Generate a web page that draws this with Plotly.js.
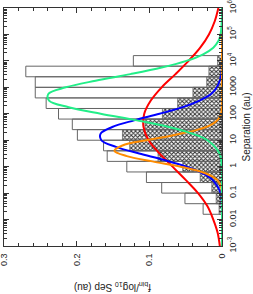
<!DOCTYPE html>
<html>
<head>
<meta charset="utf-8">
<script src="https://cdn.plot.ly/plotly-3.0.1.min.js"></script>
<style>
html,body{margin:0;padding:0;background:#fff;overflow:hidden;}
#plot{width:253px;height:294px;}
</style>
</head>
<body>
<div id="plot"></div>
<script>
// Bin centres in log10(separation / au), bin width 0.4 dex
var binCentersLog = [-1.6,-1.2,-0.8,-0.4,0.0,0.4,0.8,1.2,1.6,2.0,2.4,2.8,3.2,3.6,4.0];
var openHistVals  = [0.026,0.051,0.083,0.104,0.131,0.158,0.163,0.199,0.206,0.225,0.242,0.257,0.257,0.270,0.122];
var hatchHistVals = [0.004,0.008,0.014,0.030,0.054,0.088,0.127,0.137,0.106,0.082,0.061,0.040,0.021,0.018,0.006];

// Curves: log10 separation (au) and f_bin per log10 separation
var redLogSep = [-3,-2.5,-2,-1.5,-1,-0.5,0,0.5,1,1.5,2,2.5,3,3.5,4,4.5,5,5.5,6];
var redF      = [0.003,0.006,0.012,0.020,0.033,0.050,0.068,0.086,0.101,0.108,0.107,0.098,0.083,0.064,0.046,0.030,0.018,0.010,0.005];

var blueLogSep = [-3,-2,-1.5,-1,-0.5,-0.25,0,0.25,0.5,0.75,1,1.25,1.5,1.75,2,2.25,2.5,2.75,3,3.5,4,5,6];
var blueF      = [0,0,0.0002,0.002,0.013,0.027,0.049,0.079,0.114,0.146,0.166,0.167,0.151,0.121,0.086,0.054,0.031,0.015,0.007,0.001,0,0,0];

var orangeLogSep = [-3,-2,-1.5,-1,-0.75,-0.5,-0.25,0,0.2,0.4,0.6,0.8,1,1.2,1.4,1.6,1.8,2,2.5,3,4,5,6];
var orangeF      = [0,0,0,0.0002,0.0014,0.0067,0.023,0.057,0.096,0.131,0.148,0.137,0.104,0.065,0.033,0.014,0.005,0.0013,0,0,0,0,0];

var greenLogSep = [-3,-1,0,0.5,1,1.25,1.5,1.75,2,2.25,2.5,2.75,3,3.25,3.5,3.75,4,4.25,4.5,4.75,5,5.5,6];
var greenF      = [0,0,0.0004,0.0034,0.020,0.041,0.073,0.117,0.167,0.211,0.238,0.239,0.215,0.174,0.126,0.083,0.049,0.026,0.012,0.005,0.002,0.0003,0];

// Axis tick labels
var sepTickVals = [-3,-2,-1,0,1,2,3,4,5,6];
var sepTickText = ['10<sup>-3</sup>','0.01','0.1','1','10','100','1000','10<sup>4</sup>','10<sup>5</sup>','10<sup>6</sup>'];
var fracTickVals = [0,0.1,0.2,0.3];
var fracTickText = ['0','0.1','0.2','0.3'];

var minorLog = [];
for (var d = -3; d < 6; d++) { for (var k = 2; k <= 9; k++) { minorLog.push(d + Math.log10(k)); } }

var FONT = 'Liberation Sans, Arial, sans-serif';
var AX = '#333';
var TXT = '#222';

var traces = [
  {type:'bar', orientation:'h', y:binCentersLog, x:hatchHistVals, width:0.4,
   marker:{color:'#ffffff', pattern:{shape:'x', size:3, solidity:0.55, fgcolor:'#333', bgcolor:'#ffffff'},
           line:{color:'#666', width:0.8}}, hoverinfo:'skip'},
  {type:'bar', orientation:'h', y:binCentersLog, x:openHistVals, width:0.4,
   marker:{color:'rgba(255,255,255,0)', line:{color:'#666', width:1}}, hoverinfo:'skip'},
  {type:'scatter', mode:'lines', x:redF, y:redLogSep, line:{color:'#ff0000', width:2, shape:'spline', smoothing:1}},
  {type:'scatter', mode:'lines', x:blueF, y:blueLogSep, line:{color:'#0000ff', width:2, shape:'spline', smoothing:1}},
  {type:'scatter', mode:'lines', x:orangeF, y:orangeLogSep, line:{color:'#ff8c00', width:2, shape:'spline', smoothing:1}},
  {type:'scatter', mode:'lines', x:greenF, y:greenLogSep, line:{color:'#22ee88', width:2, shape:'spline', smoothing:1}}
];

var layout = {
  width:253, height:294,
  margin:{l:4, r:31, t:8, b:48, pad:0},
  paper_bgcolor:'#fff', plot_bgcolor:'#fff',
  showlegend:false, barmode:'overlay', bargap:0,
  font:{family:FONT, size:9, color:TXT},
  yaxis:{range:[-3,6], side:'right', tickmode:'array', tickvals:sepTickVals, ticktext:sepTickText,
    tickangle:-90, ticklabeloverflow:'allow', ticklabelstandoff:2,
    ticks:'inside', ticklen:5, tickwidth:1, tickcolor:AX,
    showline:true, linecolor:AX, linewidth:1, mirror:'ticks',
    showgrid:false, zeroline:false,
    minor:{tickmode:'array', tickvals:minorLog, ticks:'inside', ticklen:3, tickwidth:1, tickcolor:AX, showgrid:false},
    tickfont:{family:FONT, size:9, color:TXT},
    title:{text:'Separation (au)', font:{family:FONT, size:10, color:TXT}, standoff:6}},
  xaxis:{range:[0.3,0], tickmode:'array', tickvals:fracTickVals, ticktext:fracTickText,
    tickangle:-90, ticklabeloverflow:'allow', ticklabelstandoff:3,
    ticks:'inside', ticklen:5, tickwidth:1, tickcolor:AX,
    showline:true, linecolor:AX, linewidth:1, mirror:'ticks',
    showgrid:false, zeroline:false,
    minor:{dtick:0.02, ticks:'inside', ticklen:3, tickwidth:1, tickcolor:AX, showgrid:false},
    tickfont:{family:FONT, size:9, color:TXT}},
  annotations:[
    {text:'f<sub>bin</sub>/log<sub>10</sub> Sep (au)', xref:'paper', yref:'paper',
     x:0.5, y:-0.175, xanchor:'center', yanchor:'middle', textangle:180, showarrow:false,
     font:{family:FONT, size:10, color:TXT}}
  ]
};

Plotly.newPlot('plot', traces, layout, {staticPlot:true, displayModeBar:false});
</script>
</body>
</html>
